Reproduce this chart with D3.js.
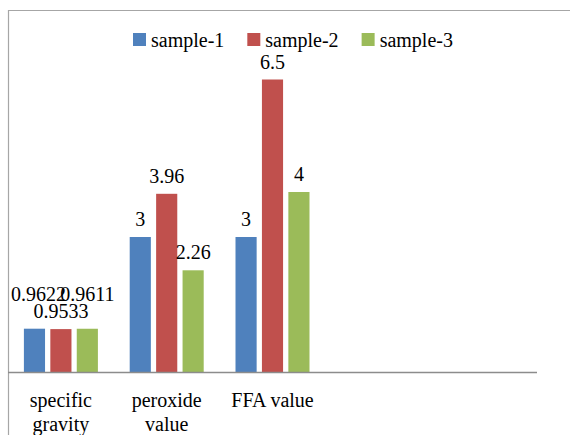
<!DOCTYPE html>
<html lang="en">
  <head>
    <meta charset="UTF-8" />
    <title>Chart</title>
    <style>
      body { margin: 0; background: #fff; }
    </style>
  </head>
  <body>
    <svg></svg>
    <script src="https://cdnjs.cloudflare.com/ajax/libs/d3/7.8.5/d3.min.js"></script>
    <script>
      const categories = ["specific gravity", "peroxide value", "FFA value", "", ""];
      const seriesNames = ["sample-1", "sample-2", "sample-3"];
      const sample1 = [0.9622, 3, 3];
      const sample2 = [0.9533, 3.96, 6.5];
      const sample3 = [0.9611, 2.26, 4];
      const colors = ["#4F81BD", "#C0504D", "#9BBB59"];

      const font = "'Liberation Serif', 'Times New Roman', serif";
      const values = [sample1, sample2, sample3];
      const width = 570, height = 435;
      const plot = { left: 8, right: 537, top: 12, bottom: 372 };

      const svg = d3.select("svg")
        .attr("width", width)
        .attr("height", height)
        .style("font-family", font);

      // chart frame (cropped on the right and bottom)
      svg.append("path")
        .attr("d", "M8.5,435 V10.5 H570")
        .attr("fill", "none")
        .attr("stroke", "#a6a6a6")
        .attr("stroke-width", 1.2);

      const x0 = d3.scaleBand()
        .domain(d3.range(categories.length))
        .range([plot.left, plot.right]);

      const groupWidth = 74;
      const x1 = d3.scaleBand()
        .domain(d3.range(seriesNames.length))
        .range([0, groupWidth])
        .paddingInner(0.2);

      const y = d3.scaleLinear().domain([0, 8]).range([plot.bottom, plot.top]);

      const groupOffset = (x0.bandwidth() - groupWidth) / 2;

      const bars = [];
      values.forEach(function (vals, s) {
        vals.forEach(function (v, c) {
          bars.push({ s: s, c: c, v: v });
        });
      });

      svg.append("g").selectAll("rect")
        .data(bars)
        .enter()
        .append("rect")
        .attr("x", d => x0(d.c) + groupOffset + x1(d.s))
        .attr("y", d => y(d.v))
        .attr("width", x1.bandwidth())
        .attr("height", d => y(0) - y(d.v))
        .attr("fill", d => colors[d.s]);

      // value labels
      const labels = svg.append("g").selectAll("text")
        .data(bars)
        .enter()
        .append("text")
        .attr("x", d => x0(d.c) + groupOffset + x1(d.s) + x1.bandwidth() / 2)
        .attr("y", d => y(d.v) - 11)
        .attr("text-anchor", "middle")
        .style("font-family", font)
        .style("font-size", "20px")
        .text(d => d.v);

      // labels that do not fit next to each other: lift the outer ones
      labels.each(function (d) {
        const w = this.getComputedTextLength();
        if (w > x1.step() * 1.5 && d.s !== 1) {
          d3.select(this)
            .attr("y", y(d.v) - 28)
            .attr("dx", d.s === 0 ? 4 : 0);
        }
      });

      // x axis
      const xAxis = d3.axisBottom(x0)
        .tickSize(0)
        .tickPadding(0)
        .tickFormat(i => categories[i]);

      const axisG = svg.append("g")
        .attr("transform", "translate(0," + plot.bottom + ")")
        .call(xAxis)
        .attr("font-family", null);
      axisG.select(".domain")
        .attr("stroke", "#8c8c8c")
        .attr("stroke-width", 1.5)
        .attr("d", "M" + plot.left + ",0.5H" + plot.right);

      axisG.selectAll(".tick text")
        .style("font-family", font)
        .style("font-size", "20px")
        .attr("fill", "#000")
        .attr("dy", null)
        .attr("y", 35)
        .each(function () {
          const t = d3.select(this);
          const words = t.text().split(" ");
          t.text(null);
          let line = [];
          let tspan = t.append("tspan").attr("x", 0).attr("y", 35);
          let lineNo = 0;
          words.forEach(function (w) {
            line.push(w);
            tspan.text(line.join(" "));
            if (tspan.node().getComputedTextLength() > 95 && line.length > 1) {
              line.pop();
              tspan.text(line.join(" "));
              line = [w];
              lineNo++;
              tspan = t.append("tspan").attr("x", 0).attr("y", 35 + lineNo * 24).text(w);
            }
          });
        });

      // legend
      const legend = svg.append("g");
      let lx = 133;
      seriesNames.forEach(function (name, i) {
        legend.append("rect")
          .attr("x", lx)
          .attr("y", 33)
          .attr("width", 13)
          .attr("height", 13)
          .attr("fill", colors[i]);
        const t = legend.append("text")
          .attr("x", lx + 18)
          .attr("y", 47)
          .style("font-family", font)
          .style("font-size", "20px")
          .text(name);
        lx += 18 + t.node().getComputedTextLength() + 23;
      });
    </script>
  </body>
</html>
